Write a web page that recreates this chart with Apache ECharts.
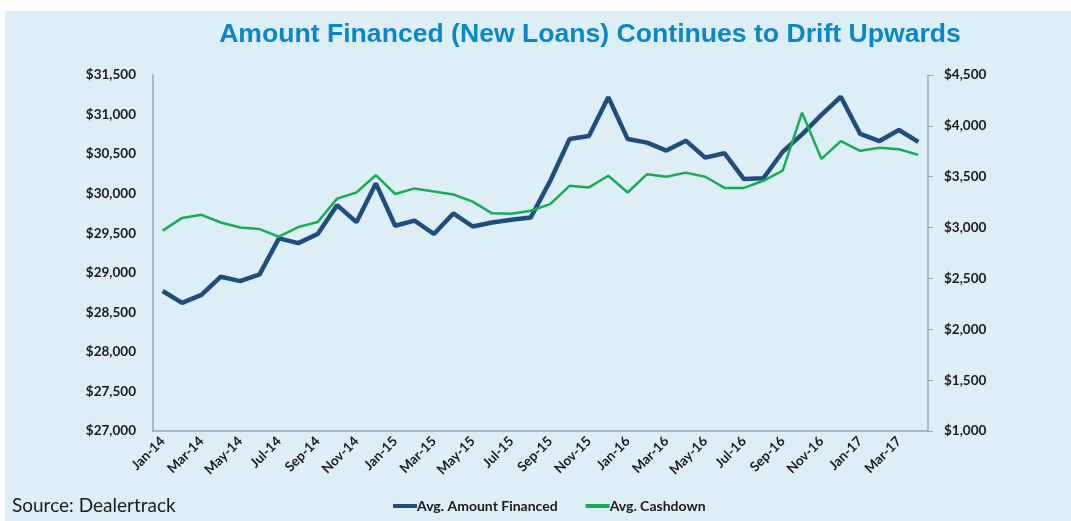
<!DOCTYPE html>
<html>
<head>
<meta charset="utf-8">
<script src="https://cdn.jsdelivr.net/npm/echarts@6/dist/echarts.min.js"></script>
<style>
html,body{margin:0;padding:0;background:#ffffff;}
#chart{width:1071px;height:521px;}
</style>
</head>
<body>
<div id="chart"></div>
<script>
const months = ['Jan-14','Feb-14','Mar-14','Apr-14','May-14','Jun-14','Jul-14','Aug-14','Sep-14','Oct-14','Nov-14','Dec-14',
'Jan-15','Feb-15','Mar-15','Apr-15','May-15','Jun-15','Jul-15','Aug-15','Sep-15','Oct-15','Nov-15','Dec-15',
'Jan-16','Feb-16','Mar-16','Apr-16','May-16','Jun-16','Jul-16','Aug-16','Sep-16','Oct-16','Nov-16','Dec-16',
'Jan-17','Feb-17','Mar-17','Apr-17'];
const amountFinanced = [28770,28620,28720,28950,28895,28980,29435,29375,29490,29855,29640,30130,
29595,29660,29490,29750,29585,29635,29670,29700,30160,30690,30730,31220,
30690,30645,30545,30670,30455,30510,30185,30195,30530,30750,30995,31225,
30755,30665,30805,30655];
const cashdown = [2970,3095,3125,3050,3000,2985,2910,3005,3055,3285,3345,3515,
3330,3385,3355,3325,3255,3140,3135,3165,3230,3410,3395,3510,
3345,3525,3500,3540,3500,3390,3390,3460,3560,4130,3675,3850,
3755,3785,3770,3715];
const leftTicks = {min:27000, max:31500, interval:500};
const rightTicks = {min:1000, max:4500, interval:500};

const chart = echarts.init(document.getElementById('chart'));
const fmt = v => '$' + v.toLocaleString('en-US');
const labelFont = {fontFamily:'Lato', fontWeight:'bold', fontSize:13.5, color:'#1a1a1a'};
chart.setOption({
  backgroundColor:'#ffffff',
  animation:false,
  graphic:[{type:'rect', z:-10, silent:true, shape:{x:5,y:11,width:1066,height:510}, style:{fill:'#ddeef7'}},
    {type:'text', left:12, top:496, style:{text:'Source: Dealertrack', fontFamily:'Lato', fontSize:19, fill:'#1a1a1a'}}],
  title:{text:'Amount Financed (New Loans) Continues to Drift Upwards', left:585, top:16, textAlign:'center',
    textStyle:{fontFamily:'Liberation Sans', fontWeight:'bold', fontSize:26.6, color:'#0a87c9'}},
  legend:{bottom:3, left:388, itemGap:28, itemWidth:24, itemHeight:4,
    textStyle:{fontFamily:'Lato', fontWeight:'bold', fontSize:14, color:'#1a1a1a', padding:[0,0,0,-5]},
    data:[{name:'Avg. Amount Financed', icon:'rect'},{name:'Avg. Cashdown', icon:'rect'}]},
  grid:{left:153, right:143, top:75, bottom:90},
  xAxis:{type:'category', data:months, boundaryGap:true,
    axisLine:{lineStyle:{color:'#9aa7b1', width:1.5}}, axisTick:{show:false},
    axisLabel:{interval:1, rotate:45, margin:8, ...labelFont}},
  yAxis:[
    {type:'value', ...leftTicks, position:'left',
     axisLine:{show:true, lineStyle:{color:'#9aa7b1', width:1.5}}, axisTick:{show:false},
     splitLine:{show:false}, axisLabel:{margin:17, formatter:fmt, ...labelFont}},
    {type:'value', ...rightTicks, position:'right',
     axisLine:{show:true, lineStyle:{color:'#9aa7b1', width:1.5}}, axisTick:{show:true, length:5, lineStyle:{color:'#9aa7b1'}},
     splitLine:{show:false}, axisLabel:{margin:16, formatter:fmt, ...labelFont}}
  ],
  series:[
    {name:'Avg. Amount Financed', type:'line', yAxisIndex:0, data:amountFinanced, symbol:'none',
     lineStyle:{color:'#1f4e7d', width:4.5}, itemStyle:{color:'#1f4e7d'}},
    {name:'Avg. Cashdown', type:'line', yAxisIndex:1, data:cashdown, symbol:'none',
     lineStyle:{color:'#19ab55', width:2.5}, itemStyle:{color:'#19ab55'}}
  ]
});
</script>
</body>
</html>
